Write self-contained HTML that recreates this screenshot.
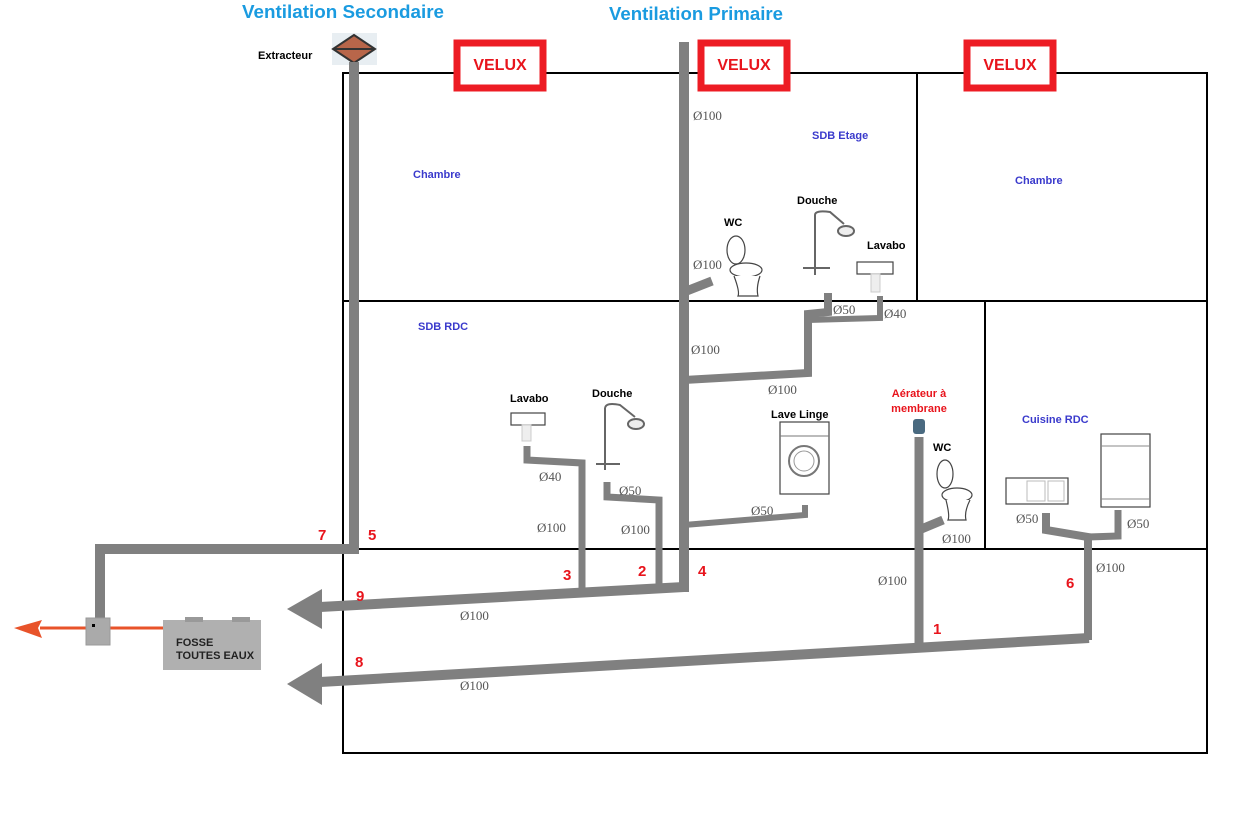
<!DOCTYPE html>
<html><head><meta charset="utf-8"><style>
html,body{margin:0;padding:0;background:#fff;}
svg{display:block;font-family:"Liberation Sans",Arial,sans-serif;}
.p{stroke:#808080;fill:none;stroke-linejoin:miter;}
.d{font-size:13px;fill:#555;font-family:"Liberation Serif",serif;}
.n{font-size:15px;font-weight:bold;fill:#e8141c;}
.r{font-size:11px;font-weight:bold;fill:#3a3acc;}
.f{font-size:11px;font-weight:bold;fill:#000;}
.v{font-size:16px;font-weight:bold;fill:#e8141c;}
.dr{stroke:#444;fill:#fff;stroke-width:1.2;}
</style></head><body>
<svg width="1253" height="829" viewBox="0 0 1253 829" xmlns="http://www.w3.org/2000/svg">
<g stroke="#000" stroke-width="2" fill="none">
<rect x="343" y="73" width="864" height="680"/>
<line x1="343" y1="301" x2="1207" y2="301"/>
<line x1="917" y1="73" x2="917" y2="301"/>
<line x1="985" y1="301" x2="985" y2="549"/>
<line x1="343" y1="549" x2="1207" y2="549"/>
</g>
<g fill="#fff" stroke="#ed1c24" stroke-width="7">
<rect x="457" y="43" width="86" height="45"/>
<rect x="701" y="43" width="86" height="45"/>
<rect x="967" y="43" width="86" height="45"/>
</g>
<text class="v" x="500" y="70" text-anchor="middle">VELUX</text>
<text class="v" x="744" y="70" text-anchor="middle">VELUX</text>
<text class="v" x="1010" y="70" text-anchor="middle">VELUX</text>
<text x="343" y="18" text-anchor="middle" font-size="18.5" font-weight="bold" fill="#1a9be0" textLength="202" lengthAdjust="spacingAndGlyphs">Ventilation Secondaire</text>
<text x="696" y="20" text-anchor="middle" font-size="18.5" font-weight="bold" fill="#1a9be0" textLength="174" lengthAdjust="spacingAndGlyphs">Ventilation Primaire</text>
<text class="f" x="258" y="59" font-size="10">Extracteur</text>
<rect x="332" y="33" width="45" height="32" fill="#e8eef2"/>
<polygon points="354,35 375,49 354,63 333,49" fill="#b8664a" stroke="#333" stroke-width="2"/>
<line x1="334" y1="49" x2="374" y2="49" stroke="#333" stroke-width="2"/>
<g class="p">
<polyline stroke-width="10" points="354,62 354,549 100,549 100,620"/>
<line stroke-width="10" x1="684" y1="42" x2="684" y2="592"/>
<line stroke-width="9" x1="684" y1="292" x2="712" y2="281"/>
<polyline stroke-width="8" points="684,380 808,373 808,314 828,312 828,293"/>
<polyline stroke-width="6" points="808,320 880,318 880,296"/>
<polyline stroke-width="6" points="684,525 805,515 805,505"/>
<polyline stroke-width="7" points="527,446 527,460 582,463 582,590"/>
<polyline stroke-width="7" points="607,482 607,497 659,500 659,590"/>
<polyline stroke-width="10" points="320,607 684,587"/>
<line stroke-width="10" x1="320" y1="682" x2="1089" y2="638"/>
<polyline stroke-width="8" points="1088,640 1088,537 1046,530 1046,513"/>
<polyline stroke-width="7" points="1088,537 1118,536 1118,510"/>
<line stroke-width="9" x1="919" y1="437" x2="919" y2="646"/>
<line stroke-width="9" x1="919" y1="530" x2="943" y2="520"/>
</g>
<polygon points="287,609 322,589 322,629" fill="#808080"/>
<polygon points="287,684 322,663 322,705" fill="#808080"/>
<line x1="40" y1="628" x2="175" y2="628" stroke="#e8532a" stroke-width="3"/>
<polygon points="14,628 42,620 38,628 42,638" fill="#e8532a"/>
<rect x="86" y="618" width="24" height="27" fill="#aaa" stroke="#999"/>
<rect x="92" y="624" width="3" height="3" fill="#000"/>
<rect x="163" y="620" width="98" height="50" fill="#b0b0b0"/>
<rect x="185" y="617" width="18" height="5" fill="#999"/>
<rect x="232" y="617" width="18" height="5" fill="#999"/>
<text x="176" y="646" font-size="11" font-weight="bold" fill="#222">FOSSE</text>
<text x="176" y="659" font-size="11" font-weight="bold" fill="#222">TOUTES EAUX</text>
<text class="r" x="413" y="178">Chambre</text>
<text class="r" x="812" y="139">SDB Etage</text>
<text class="r" x="1015" y="184">Chambre</text>
<text class="r" x="418" y="330">SDB RDC</text>
<text class="r" x="1022" y="423">Cuisine RDC</text>
<text x="919" y="397" font-size="11" font-weight="bold" fill="#e8141c" text-anchor="middle">Aérateur à</text>
<text x="919" y="412" font-size="11" font-weight="bold" fill="#e8141c" text-anchor="middle">membrane</text>
<text class="f" x="724" y="226">WC</text>
<text class="f" x="797" y="204">Douche</text>
<text class="f" x="867" y="249">Lavabo</text>
<text class="f" x="510" y="402">Lavabo</text>
<text class="f" x="592" y="397">Douche</text>
<text class="f" x="771" y="418">Lave Linge</text>
<text class="f" x="933" y="451">WC</text>
<text class="d" x="693" y="120">Ø100</text>
<text class="d" x="693" y="269">Ø100</text>
<text class="d" x="833" y="314">Ø50</text>
<text class="d" x="884" y="318">Ø40</text>
<text class="d" x="691" y="354">Ø100</text>
<text class="d" x="768" y="394">Ø100</text>
<text class="d" x="539" y="481">Ø40</text>
<text class="d" x="619" y="495">Ø50</text>
<text class="d" x="537" y="532">Ø100</text>
<text class="d" x="621" y="534">Ø100</text>
<text class="d" x="751" y="515">Ø50</text>
<text class="d" x="460" y="620">Ø100</text>
<text class="d" x="460" y="690">Ø100</text>
<text class="d" x="878" y="585">Ø100</text>
<text class="d" x="942" y="543">Ø100</text>
<text class="d" x="1016" y="523">Ø50</text>
<text class="d" x="1127" y="528">Ø50</text>
<text class="d" x="1096" y="572">Ø100</text>
<text class="n" x="318" y="540">7</text>
<text class="n" x="368" y="540">5</text>
<text class="n" x="563" y="580">3</text>
<text class="n" x="638" y="576">2</text>
<text class="n" x="698" y="576">4</text>
<text class="n" x="356" y="601">9</text>
<text class="n" x="355" y="667">8</text>
<text class="n" x="933" y="634">1</text>
<text class="n" x="1066" y="588">6</text>
<g>
<ellipse cx="736" cy="250" rx="9" ry="14" class="dr" stroke-width="2"/>
<ellipse cx="746" cy="270" rx="16" ry="7" class="dr" stroke-width="2"/>
<path d="M734,276 Q740,292 738,296 L758,296 Q756,288 760,276" class="dr" stroke-width="2"/>
<g stroke="#666" fill="none" stroke-width="2"><line x1="815" y1="215" x2="815" y2="275"/><path d="M815,215 Q815,210 830,212 L844,224"/><ellipse cx="846" cy="231" rx="8" ry="5" fill="#eee"/><line x1="803" y1="268" x2="830" y2="268"/></g>
<rect x="857" y="262" width="36" height="12" class="dr" stroke="#aaa"/><rect x="871" y="274" width="9" height="18" fill="#eee" stroke="#ccc"/>
<rect x="511" y="413" width="34" height="12" class="dr" stroke="#aaa"/><rect x="522" y="425" width="9" height="16" fill="#eee" stroke="#ccc"/>
<g stroke="#666" fill="none" stroke-width="2"><line x1="605" y1="408" x2="605" y2="470"/><path d="M605,408 Q606,402 620,405 L635,417"/><ellipse cx="636" cy="424" rx="8" ry="5" fill="#eee"/><line x1="596" y1="464" x2="620" y2="464"/></g>
<rect x="780" y="422" width="49" height="72" class="dr" stroke="#777"/>
<line x1="780" y1="436" x2="829" y2="436" stroke="#777"/>
<circle cx="804" cy="461" r="15" fill="#fff" stroke="#777" stroke-width="2"/>
<circle cx="804" cy="461" r="10" fill="#fff" stroke="#999"/>
<rect x="913" y="419" width="12" height="15" rx="3" fill="#4a6a80"/>
<ellipse cx="945" cy="474" rx="8" ry="14" class="dr" stroke-width="2"/>
<ellipse cx="957" cy="495" rx="15" ry="7" class="dr" stroke-width="2"/>
<path d="M946,500 Q950,516 948,520 L966,520 Q964,512 970,500" class="dr" stroke-width="2"/>
<rect x="1006" y="478" width="62" height="26" class="dr" stroke="#aaa"/>
<rect x="1027" y="481" width="18" height="20" fill="#fff" stroke="#bbb"/><rect x="1048" y="481" width="16" height="20" fill="#fff" stroke="#bbb"/>
<rect x="1101" y="434" width="49" height="73" class="dr" stroke="#888"/>
<line x1="1101" y1="446" x2="1150" y2="446" stroke="#888"/>
<line x1="1101" y1="499" x2="1150" y2="499" stroke="#888"/>
</g>
</svg>
</body></html>
